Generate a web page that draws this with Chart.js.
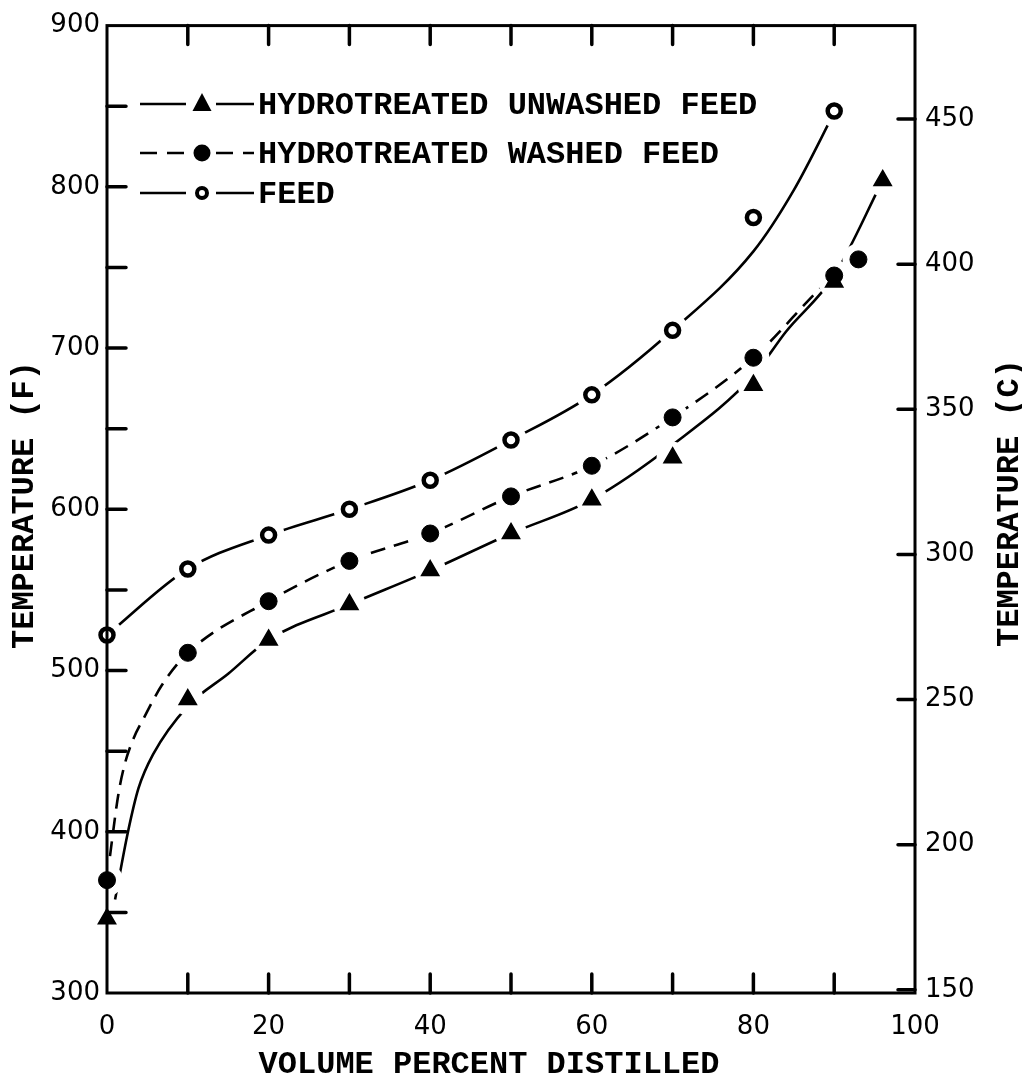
<!DOCTYPE html>
<html>
<head>
<meta charset="utf-8">
<script src="https://cdn.jsdelivr.net/npm/chart.js@4.4.1/dist/chart.umd.min.js"></script>
<style>
  html, body { margin: 0; padding: 0; background: #fff; }
  #wrap { width: 1022px; height: 1080px; }
</style>
</head>
<body>
<div id="wrap"><canvas id="chart" width="1022" height="1080"></canvas></div>
<script>
// measured points: volume percent distilled vs temperature (F)
const unwashedPct  = [0, 10, 20, 30, 40, 50, 60, 70, 80, 90, 96];
const unwashedTemp = [346, 482, 519, 541, 562, 585, 606, 632, 677, 741, 804];
const washedPct    = [0, 10, 20, 30, 40, 50, 60, 70, 80, 90, 93];
const washedTemp   = [370, 511, 543, 568, 585, 608, 627, 657, 694, 745, 755];
const feedPct      = [0, 10, 20, 30, 40, 50, 60, 70, 80, 90];
const feedTemp     = [522, 563, 584, 600, 618, 643, 671, 711, 781, 847];

// the smooth curves as drawn in the figure (traced off it)
const unwashedCurvePct  = [1.0, 2.6, 3.9, 5.7, 10, 15, 20, 30, 40, 50, 60, 70, 80, 84, 90, 96];
const unwashedCurveTemp = [358, 400, 427, 448, 478, 498, 519, 541, 562, 585, 606, 640, 683, 710, 745, 804];
const washedCurvePct    = [0, 0.5, 1.4, 2.2, 3.3, 4.5, 6.8, 10, 20, 30, 40, 50, 60, 70, 80, 90, 93];
const washedCurveTemp   = [370, 390, 423, 442, 458, 470, 491, 511, 543, 568, 585, 608, 627, 657, 694, 745, 755];
const feedCurvePct      = [0, 10, 20, 30, 40, 50, 60, 70, 80, 85, 90];
const feedCurveTemp     = [522, 563, 584, 600, 618, 643, 671, 711, 760, 798, 846];

// axes
const pctLabels   = [0, 20, 40, 60, 80, 100];
const pctMarks    = [10, 20, 30, 40, 50, 60, 70, 80, 90];
const tempFLabels = [300, 400, 500, 600, 700, 800, 900];
const tempFMarks  = [350, 400, 450, 500, 550, 600, 650, 700, 750, 800, 850];
const tempCLabels = [150, 200, 250, 300, 350, 400, 450];

const legendLabels = ['HYDROTREATED UNWASHED FEED', 'HYDROTREATED WASHED FEED', 'FEED'];
const xTitle = 'VOLUME PERCENT DISTILLED';
const yTitle = 'TEMPERATURE (F)';
const y2Title = 'TEMPERATURE (C)';

const toC = f => (f - 32) / 1.8;
const pts = (xs, ys) => xs.map((x, i) => ({ x: x, y: ys[i] }));

const tickFont = { family: '"DejaVu Sans"', size: 26 };
const titleFont = 'bold 32px "Liberation Mono"';

function drawMarker(ctx, style, x, y) {
  ctx.beginPath();
  if (style === 'triangle') {
    ctx.moveTo(x, y - 11);
    ctx.lineTo(x + 9.5, y + 7);
    ctx.lineTo(x - 9.5, y + 7);
    ctx.closePath();
    ctx.fill();
  } else if (style === 'dot') {
    ctx.arc(x, y, 8.5, 0, Math.PI * 2);
    ctx.fill();
  } else {
    ctx.lineWidth = 4;
    ctx.arc(x, y, 5, 0, Math.PI * 2);
    ctx.stroke();
  }
}

const framePlugin = {
  id: 'frame',
  afterDatasetsDraw(chart) {
    const ctx = chart.ctx;
    const a = chart.chartArea;
    const sx = chart.scales.x, sy = chart.scales.y, sy2 = chart.scales.y2;
    ctx.save();
    ctx.strokeStyle = '#000';
    ctx.fillStyle = '#000';

    // box
    ctx.lineWidth = 3;
    ctx.strokeRect(a.left, a.top, a.right - a.left, a.bottom - a.top);

    // inward tick marks
    ctx.lineWidth = 3.5;
    ctx.lineCap = 'round';
    ctx.beginPath();
    pctMarks.forEach(v => {
      const px = sx.getPixelForValue(v);
      ctx.moveTo(px, a.top); ctx.lineTo(px, a.top + 19);
      ctx.moveTo(px, a.bottom); ctx.lineTo(px, a.bottom - 19);
    });
    tempFMarks.forEach(v => {
      const py = sy.getPixelForValue(v);
      ctx.moveTo(a.left, py); ctx.lineTo(a.left + 19, py);
    });
    tempCLabels.forEach(v => {
      const py = sy2.getPixelForValue(v);
      ctx.moveTo(a.right, py); ctx.lineTo(a.right - 17, py);
    });
    ctx.stroke();

    // legend
    ctx.lineCap = 'butt';
    const rows = [
      { y: 104, style: 'triangle', dash: [] },
      { y: 153, style: 'dot', dash: [17, 10] },
      { y: 193, style: 'circle', dash: [] }
    ];
    rows.forEach((r, i) => {
      ctx.setLineDash(r.dash);
      ctx.lineWidth = 2.6;
      ctx.beginPath();
      ctx.moveTo(140, r.y); ctx.lineTo(186, r.y);
      ctx.moveTo(216, r.y); ctx.lineTo(254, r.y);
      ctx.stroke();
      ctx.setLineDash([]);
      drawMarker(ctx, r.style, 202, r.y);
      ctx.font = titleFont;
      ctx.textAlign = 'left';
      ctx.textBaseline = 'alphabetic';
      ctx.fillText(legendLabels[i], 258, r.y + 10);
    });

    // axis titles
    ctx.font = titleFont;
    ctx.textAlign = 'center';
    ctx.textBaseline = 'alphabetic';
    ctx.fillText(xTitle, 489, 1073);
    ctx.save();
    ctx.translate(33, 505);
    ctx.rotate(-Math.PI / 2);
    ctx.fillText(yTitle, 0, 0);
    ctx.restore();
    ctx.save();
    ctx.translate(1018, 503);
    ctx.rotate(-Math.PI / 2);
    ctx.fillText(y2Title, 0, 0);
    ctx.restore();

    ctx.restore();
  }
};

const curve = (xs, ys, dash) => ({
  data: pts(xs, ys),
  borderColor: '#000',
  borderWidth: 2.6,
  borderDash: dash,
  pointRadius: 0,
  cubicInterpolationMode: 'monotone',
  fill: false,
  order: 2
});

new Chart(document.getElementById('chart'), {
  type: 'line',
  data: {
    datasets: [
      // markers on top
      {
        data: pts(unwashedPct, unwashedTemp),
        showLine: false, pointStyle: 'triangle', pointRadius: 10,
        pointBackgroundColor: '#000', pointBorderColor: '#000', pointBorderWidth: 1.5,
        clip: false, order: 0
      },
      {
        data: pts(washedPct, washedTemp),
        showLine: false, pointStyle: 'circle', pointRadius: 8.5,
        pointBackgroundColor: '#000', pointBorderColor: '#000', pointBorderWidth: 1,
        clip: false, order: 0
      },
      {
        data: pts(feedPct, feedTemp),
        showLine: false, pointStyle: 'circle', pointRadius: 6.5,
        pointBackgroundColor: '#fff', pointBorderColor: '#000', pointBorderWidth: 4.5,
        clip: false, order: 0
      },
      // white gap round every marker, so the curves stop short of them
      {
        data: pts(unwashedPct, unwashedTemp).concat(pts(washedPct, washedTemp), pts(feedPct, feedTemp)),
        showLine: false, pointRadius: 16,
        pointBackgroundColor: '#fff', pointBorderColor: '#fff', pointBorderWidth: 0,
        clip: false, order: 1
      },
      curve(unwashedCurvePct, unwashedCurveTemp, []),
      curve(washedCurvePct, washedCurveTemp, [15, 9]),
      curve(feedCurvePct, feedCurveTemp, [])
    ]
  },
  options: {
    responsive: false,
    animation: false,
    layout: { padding: { top: 20, left: 0, right: 0, bottom: 0 } },
    plugins: { legend: { display: false }, tooltip: { enabled: false } },
    scales: {
      x: {
        type: 'linear', min: 0, max: 100,
        afterFit: s => { s.height = 87; },
        afterBuildTicks: s => { s.ticks = pctLabels.map(v => ({ value: v })); },
        grid: { display: false, drawTicks: false },
        border: { display: false },
        ticks: { font: tickFont, color: '#000', padding: 19 }
      },
      y: {
        type: 'linear', position: 'left', min: 300, max: 900,
        afterFit: s => { s.width = 107; },
        afterBuildTicks: s => { s.ticks = tempFLabels.map(v => ({ value: v })); },
        grid: { display: false, drawTicks: false },
        border: { display: false },
        ticks: { font: tickFont, color: '#000', padding: 7 }
      },
      y2: {
        type: 'linear', position: 'right', min: toC(300), max: toC(900),
        afterFit: s => { s.width = 107; },
        afterBuildTicks: s => { s.ticks = tempCLabels.map(v => ({ value: v })); },
        grid: { display: false, drawTicks: false },
        border: { display: false },
        ticks: { font: tickFont, color: '#000', padding: 10 }
      }
    }
  },
  plugins: [framePlugin]
});
</script>
</body>
</html>
